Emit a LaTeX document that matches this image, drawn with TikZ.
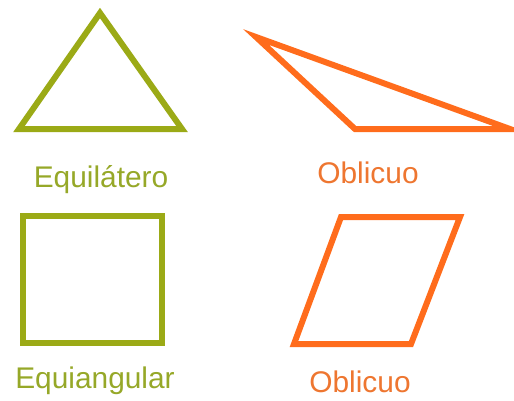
\documentclass[tikz,border=0pt]{standalone}
\usepackage{fontspec}
\setmainfont{Liberation Sans}
\usepackage{xcolor}
\usetikzlibrary{positioning}
\definecolor{shapegreen}{RGB}{155,170,22}
\definecolor{shapeorange}{RGB}{255,108,28}
\definecolor{labelgreen}{RGB}{150,168,40}
\definecolor{labelorange}{RGB}{238,118,48}

\begin{document}
\begin{tikzpicture}[x=0.02cm, y=-0.02cm, line join=miter, every node/.style={font=\fontsize{17}{20}\selectfont, inner sep=0pt}]
  \useasboundingbox (0,0) rectangle (514,400);
  % shapes
  \draw[shapegreen, line width=0.12cm] (100,13) -- (19,129) -- (182,129) -- cycle;
  \draw[shapeorange, line width=0.12cm] (256,37) -- (355,129) -- (510,129) -- cycle;
  \draw[shapegreen, line width=0.12cm] (23,216) rectangle (162,343);
  \draw[shapeorange, line width=0.12cm] (341,217) -- (460,217) -- (411,344) -- (294,344) -- cycle;
  % labels
  \node[anchor=base, text=labelgreen] (equilat) at (101,187) {Equilátero};
  \node[anchor=base, text=labelorange] (oblic1) at (368,183) {Oblicuo};
  \node[anchor=base, text=labelgreen] (equiang) at (95,388) {Equiangular};
  \node[anchor=base, text=labelorange] (oblic2) at (360,392) {Oblicuo};
\end{tikzpicture}
\end{document}
